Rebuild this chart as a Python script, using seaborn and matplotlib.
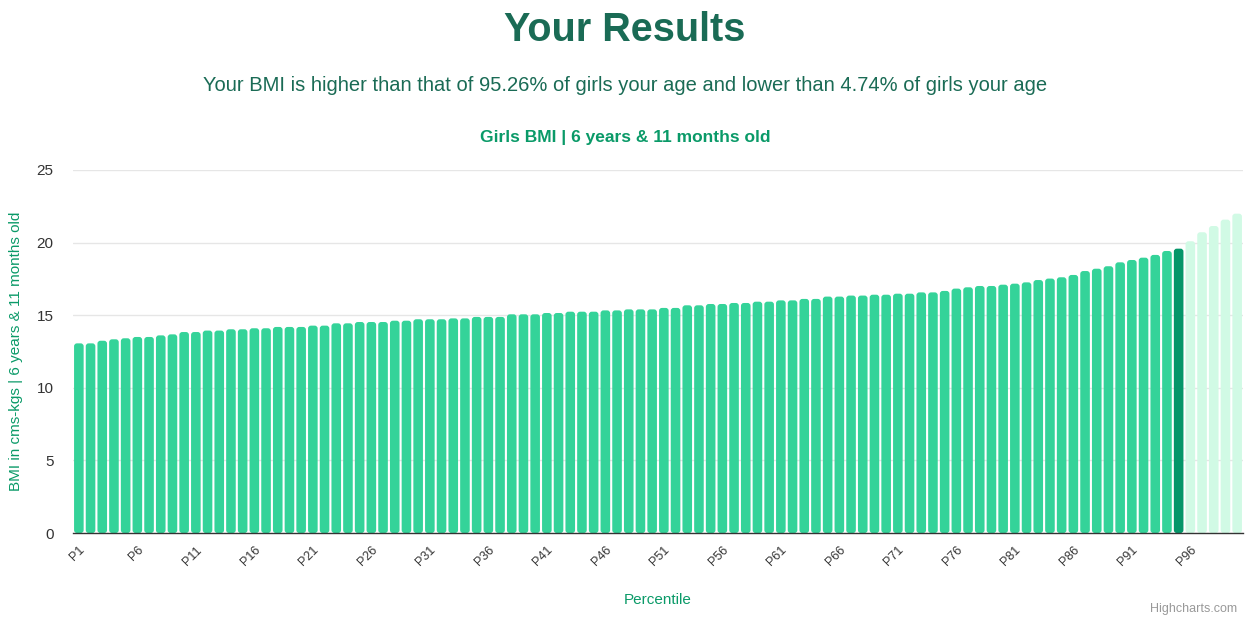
import numpy as np
import pandas as pd
import matplotlib
matplotlib.use("Agg")
import matplotlib.pyplot as plt
from matplotlib.patches import FancyBboxPatch
import seaborn as sns

# BMI by percentile
percentiles = [f"P{i}" for i in range(1, 101)]
bmi = [
    13.06, 13.06, 13.24, 13.34, 13.41, 13.50, 13.50, 13.61, 13.68, 13.84,
    13.84, 13.94, 13.94, 14.03, 14.03, 14.10, 14.10, 14.19, 14.19, 14.19,
    14.28, 14.28, 14.44, 14.44, 14.53, 14.53, 14.53, 14.62, 14.62, 14.72,
    14.72, 14.72, 14.78, 14.78, 14.88, 14.88, 14.88, 15.06, 15.06, 15.06,
    15.15, 15.15, 15.24, 15.24, 15.24, 15.33, 15.33, 15.40, 15.40, 15.40,
    15.50, 15.50, 15.68, 15.68, 15.77, 15.77, 15.84, 15.84, 15.93, 15.93,
    16.02, 16.02, 16.12, 16.12, 16.28, 16.28, 16.35, 16.35, 16.41, 16.41,
    16.48, 16.48, 16.57, 16.57, 16.67, 16.83, 16.92, 17.01, 17.01, 17.10,
    17.17, 17.26, 17.42, 17.52, 17.61, 17.77, 18.04, 18.20, 18.37, 18.64,
    18.80, 18.96, 19.15, 19.42, 19.58, 20.09, 20.71, 21.14, 21.58, 21.99,
]
your_percentile = 95
group = ["below" if i < your_percentile else ("you" if i == your_percentile else "above")
         for i in range(1, 101)]

palette = {"below": "#34d399", "you": "#059669", "above": "#d1fae5"}

df = pd.DataFrame({"Percentile": percentiles, "BMI": bmi, "group": group})

sns.set_theme(style="white")
plt.rcParams["font.family"] = ["Liberation Sans", "DejaVu Sans"]

fig = plt.figure(figsize=(12.5, 6.18), dpi=100)
ax = fig.add_axes([0.0584, 0.1375, 0.936, 0.5875])

sns.barplot(
    data=df, x="Percentile", y="BMI", hue="group",
    palette=palette, dodge=False, width=0.82, saturation=1,
    legend=False, ax=ax, order=percentiles,
)

# rounded tops, like the highcharts bars
bars = list(ax.patches)
for p in bars:
    if p.get_height() <= 0:
        p.remove()
        continue
    rb = FancyBboxPatch(
        (p.get_x(), p.get_y()), p.get_width(), p.get_height(),
        boxstyle="round,pad=0,rounding_size=0.25", mutation_aspect=0.81,
        facecolor=p.get_facecolor(), edgecolor="none", linewidth=0,
    )
    p.remove()
    ax.add_patch(rb)

ax.set_xlim(-0.5, 99.5)
ax.set_ylim(0, 25)
ax.set_yticks([0, 5, 10, 15, 20, 25])
ax.yaxis.grid(True, color="#e6e6e6", linewidth=1)
ax.set_axisbelow(True)
ax.tick_params(axis="y", labelsize=11, labelcolor="#333333", length=0, pad=14)

ticks = list(range(0, 100, 5))
ax.set_xticks(ticks)
ax.set_xticklabels([percentiles[i] for i in ticks], rotation=45,
                   ha="right", rotation_mode="anchor", fontsize=9, color="#333333")
ax.tick_params(axis="x", length=0, pad=8)

for s in ["top", "right", "left"]:
    ax.spines[s].set_visible(False)
ax.spines["bottom"].set_color("#333333")
ax.spines["bottom"].set_linewidth(1)
ax.spines["bottom"].set_zorder(5)

ax.set_xlabel("Percentile", fontsize=11, color="#0a9a68", labelpad=18)
ax.set_ylabel("BMI in cms-kgs | 6 years & 11 months old", fontsize=11,
              color="#0a9a68", labelpad=10)

fig.text(0.5, 0.952, "Your Results", ha="center", va="center",
         fontsize=28.5, fontweight="bold", color="#1a6b55")
fig.text(0.5, 0.862,
         "Your BMI is higher than that of 95.26% of girls your age and lower than 4.74% of girls your age",
         ha="center", va="center", fontsize=14.5, color="#1a6b55")
fig.text(0.5, 0.778, "Girls BMI | 6 years & 11 months old", ha="center", va="center",
         fontsize=12.5, fontweight="bold", color="#0a9a68")
fig.text(0.99, 0.005, "Highcharts.com", ha="right", va="bottom",
         fontsize=9, color="#999999")

fig.savefig("out.png", dpi=100, facecolor="white")
